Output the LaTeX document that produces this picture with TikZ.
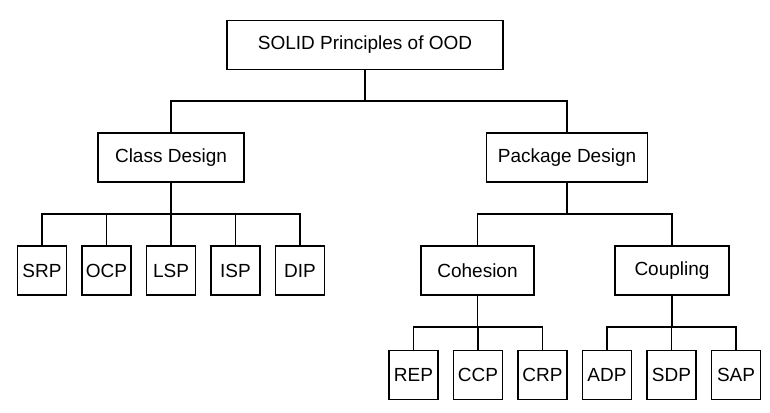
\documentclass[tikz,border=0pt]{standalone}
\usepackage{fontspec}
\setmainfont{Liberation Sans}
\usetikzlibrary{positioning}
\usetikzlibrary{calc}

\tikzset{
  box/.style={draw, rectangle, line width=1.2pt, inner sep=0pt, minimum height=49pt, font=\fontsize{19}{23}\selectfont},
  leaf/.style={box, minimum width=49pt},
  link/.style={line width=1.2pt}
}

\begin{document}
\begin{tikzpicture}[x=1pt, y=-1pt]
			\useasboundingbox[fill=white] (0,0) rectangle (770,412);

			% top level
			\node[box, minimum width=276pt] (root) at (365,45) {SOLID Principles of OOD};
			\node[box, minimum width=146pt] (cls) at (171,157.5) {Class Design};
			\node[box, minimum width=161pt] (pkg) at (567,157.5) {Package Design};

			% package groups
			\node[box, minimum width=113pt] (coh) at (477.5,270.5) {Cohesion};
			\node[box, minimum width=114pt] (cpl) at (672,270.5) {Coupling};

			% class principles
			\node[leaf] (srp) at (42,270.5) {SRP};
			\node[leaf] (ocp) at (106.5,270.5) {OCP};
			\node[leaf] (lsp) at (171,270.5) {LSP};
			\node[leaf] (isp) at (235.5,270.5) {ISP};
			\node[leaf] (dip) at (300,270.5) {DIP};

			% package principles
			\node[leaf] (rep) at (413.5,375) {REP};
			\node[leaf] (ccp) at (478,375) {CCP};
			\node[leaf] (crp) at (542.5,375) {CRP};
			\node[leaf] (adp) at (607,375) {ADP};
			\node[leaf] (sdp) at (671.5,375) {SDP};
			\node[leaf] (sap) at (736,375) {SAP};

			% branch points
			\coordinate (jroot) at (365,101);
			\coordinate (jcls) at (171,214);
			\coordinate (jpkg) at (567,214);
			\coordinate (jcoh) at (477.5,327);
			\coordinate (jcpl) at (672,327);

			\draw[link] (root.south) -- (jroot);
			\draw[link] (jroot) -| (cls.north);
			\draw[link] (jroot) -| (pkg.north);

			\draw[link] (cls.south) -- (jcls);
			\foreach \p in {srp,ocp,lsp,isp,dip}
				\draw[link] (jcls) -| (\p.north);

			\draw[link] (pkg.south) -- (jpkg);
			\draw[link] (jpkg) -| (coh.north);
			\draw[link] (jpkg) -| (cpl.north);

			\draw[link] (coh.south) -- (jcoh);
			\foreach \p in {rep,ccp,crp}
				\draw[link] (jcoh) -| (\p.north);

			\draw[link] (cpl.south) -- (jcpl);
			\foreach \p in {adp,sdp,sap}
				\draw[link] (jcpl) -| (\p.north);
		\end{tikzpicture}
\end{document}
